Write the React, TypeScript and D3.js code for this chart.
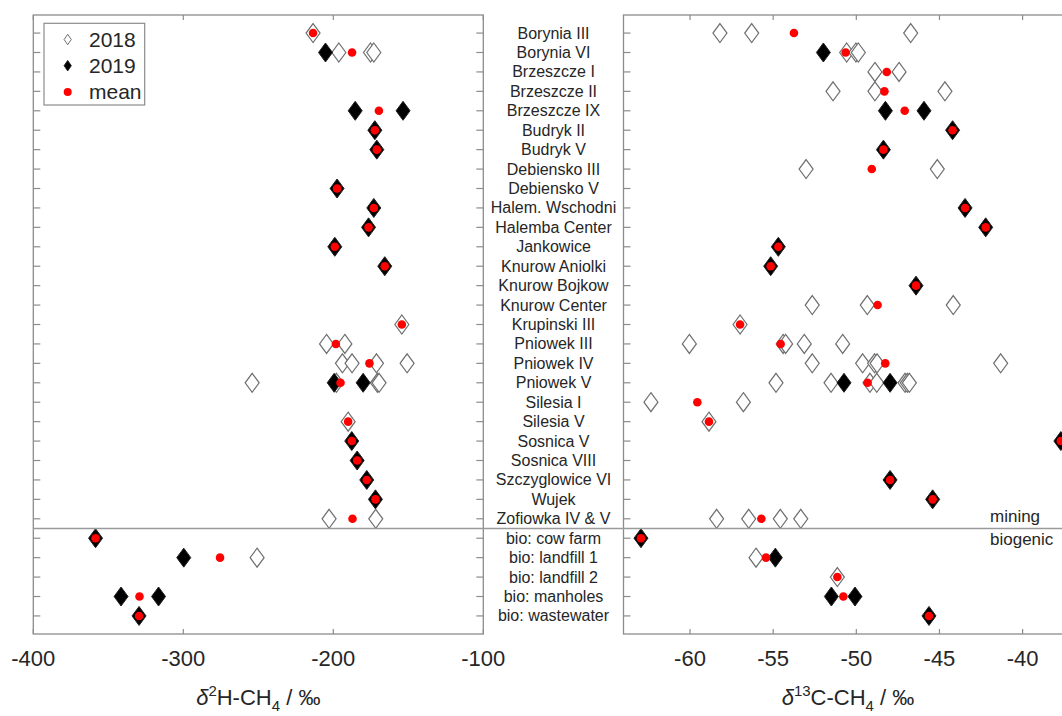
import React from "react";
import * as d3 from "d3";

const categories = [
  "Borynia III", "Borynia VI", "Brzeszcze I", "Brzeszcze II", "Brzeszcze IX",
  "Budryk II", "Budryk V", "Debiensko III", "Debiensko V", "Halem. Wschodni",
  "Halemba Center", "Jankowice", "Knurow Aniolki", "Knurow Bojkow", "Knurow Center",
  "Krupinski III", "Pniowek III", "Pniowek IV", "Pniowek V", "Silesia I",
  "Silesia V", "Sosnica V", "Sosnica VIII", "Szczyglowice VI", "Wujek",
  "Zofiowka IV & V", "bio: cow farm", "bio: landfill 1", "bio: landfill 2",
  "bio: manholes", "bio: wastewater",
];

// δ2H-CH4 values
const h2_2018: number[][] = [
  [-213.5], [-196.3, -175.2, -173], [], [], [],
  [], [], [], [], [],
  [], [], [], [], [],
  [-154.3], [-204.5, -192.3], [-193.9, -187.5, -171.2, -150.8], [-254.1, -197.9, -170.6, -169.5], [],
  [-190.1], [], [], [], [],
  [-202.8, -171.7], [], [-250.8], [], [], [],
];
const h2_2019: number[][] = [
  [], [-205.2], [], [], [-185.4, -153.5],
  [-172.3], [-171], [], [-197.5], [-173],
  [-176.5], [-199], [-165.7], [], [],
  [], [], [], [-199.4, -180.1], [],
  [], [-187.7], [-184.1], [-177.7], [-171.9],
  [], [-358.5], [-299.7], [], [-341.5, -316.5], [-329.5],
];
const h2_mean: (number | null)[] = [
  -213.5, -187.5, null, null, -169.6,
  -172.3, -171, null, -197.5, -173,
  -176.5, -199, -165.7, null, null,
  -154.3, -198.3, -175.9, -195.2, null,
  -190.1, -187.7, -184.1, -177.7, -171.9,
  -187.2, -358.5, -275.5, null, -329.2, -329.5,
];

// δ13C-CH4 values
const c13_2018: number[][] = [
  [-58.2, -56.29, -46.73], [-50.58, -50.02, -49.88], [-48.88, -47.43], [-51.4, -48.88, -44.67], [],
  [], [], [-53.02, -45.13], [], [],
  [], [], [], [], [-52.65, -49.34, -44.17],
  [-56.99], [-60.04, -54.4, -54.25, -53.13, -50.82], [-52.65, -49.62, -48.9, -48.75, -41.32],
  [-54.83, -51.52, -49.18, -48.77, -47.07, -46.93, -46.81], [-62.35, -56.79],
  [-58.86], [], [], [], [],
  [-58.4, -56.47, -54.57, -53.34], [], [-56.03], [-51.14], [], [],
];
const c13_2019: number[][] = [
  [], [-51.98], [], [], [-48.25, -45.93],
  [-44.21], [-48.37], [], [], [-43.46],
  [-42.22], [-54.69], [-55.15], [-46.41], [],
  [], [], [], [-50.74, -47.97], [],
  [], [-37.7], [], [-47.97], [-45.41],
  [], [-62.95], [-54.87], [], [-51.5, -50.08], [-45.63],
];
const c13_mean: (number | null)[] = [
  -53.75, -50.64, -48.17, -48.31, -47.09,
  -44.21, -48.37, -49.07, null, -43.46,
  -42.22, -54.69, -55.15, -46.41, -48.72,
  -56.99, -54.55, -48.26, -49.32, -59.56,
  -58.86, -37.7, null, -47.97, -45.41,
  -55.71, -62.95, -55.43, -51.14, -50.78, -45.63,
];

const h2Ticks = [-400, -300, -200, -100];
const c13Ticks = [-60, -55, -50, -45, -40];
const legendItems = ["2018", "2019", "mean"];

const W = 1062;
const H = 716;
const TOP = 15;
const BOTTOM = 634;
const FONT = "'Liberation Sans', Arial, sans-serif";
const TXT = "#262626";
const AX = "#8c8c8c";

const diamond = (hw: number, hh: number) => `M0,${-hh}L${hw},0L0,${hh}L${-hw},0Z`;
const D_BIG = diamond(7, 9.5);
const D_SMALL = diamond(3.6, 5.2);

export default function App() {
  const y = d3.scaleLinear().domain([-0.93, categories.length - 0.07]).range([TOP, BOTTOM]);
  const xL = d3.scaleLinear().domain([-400, -100]).range([33.3, 483.3]);
  const xR = d3.scaleLinear().domain([-64, -37]).range([623.5, 1072.5]);
  const sepY = y(25.5);

  const panel = (
    x: d3.ScaleLinear<number, number>,
    ticks: number[],
    d18: number[][],
    d19: number[][],
    mean: (number | null)[],
    key: string
  ) => {
    const [x0, x1] = x.range();
    return (
      <g key={key}>
        <rect x={x0} y={TOP} width={x1 - x0} height={BOTTOM - TOP} fill="none" stroke={AX} strokeWidth={1.3} />
        {categories.map((_, i) => (
          <g key={i}>
            <line x1={x0} x2={x0 + 7} y1={y(i)} y2={y(i)} stroke={AX} strokeWidth={1.2} />
            <line x1={x1} x2={x1 - 7} y1={y(i)} y2={y(i)} stroke={AX} strokeWidth={1.2} />
          </g>
        ))}
        {ticks.map((t) => (
          <g key={t}>
            <line x1={x(t)} x2={x(t)} y1={TOP} y2={TOP + 5} stroke={AX} strokeWidth={1.2} />
            <line x1={x(t)} x2={x(t)} y1={BOTTOM} y2={BOTTOM - 5} stroke={AX} strokeWidth={1.2} />
            <text x={x(t)} y={666} textAnchor="middle" fontSize={22} fill={TXT} fontFamily={FONT}>
              {t}
            </text>
          </g>
        ))}
        {d18.map((vals, i) =>
          vals.map((v, j) => (
            <path key={`a${i}-${j}`} d={D_BIG} transform={`translate(${x(v)},${y(i)})`} fill="white" stroke="#6e6e6e" strokeWidth={1.2} />
          ))
        )}
        {d19.map((vals, i) =>
          vals.map((v, j) => (
            <path key={`b${i}-${j}`} d={D_BIG} transform={`translate(${x(v)},${y(i)})`} fill="black" stroke="#222" strokeWidth={1} />
          ))
        )}
        {mean.map((v, i) =>
          v === null ? null : <circle key={`m${i}`} cx={x(v)} cy={y(i)} r={4.3} fill="#ff0000" />
        )}
      </g>
    );
  };

  const lx = 44, ly = 23.3, lw = 100.7, lh = 81.7;

  return (
    <svg width={W} height={H} style={{ position: "absolute", left: 0, top: 0, background: "white" }}>
      {panel(xL, h2Ticks, h2_2018, h2_2019, h2_mean, "L")}
      {panel(xR, c13Ticks, c13_2018, c13_2019, c13_mean, "R")}
      <line x1={33.3} x2={W} y1={sepY} y2={sepY} stroke="#9a9a9a" strokeWidth={1.6} />
      {categories.map((c, i) => (
        <text key={c} x={553.5} y={y(i) + 5.5} textAnchor="middle" fontSize={16} fill={TXT} fontFamily={FONT}>
          {c}
        </text>
      ))}
      <text x={990} y={521.5} fontSize={17} fill={TXT} fontFamily={FONT}>mining</text>
      <text x={990} y={545} fontSize={17} fill={TXT} fontFamily={FONT}>biogenic</text>
      {/* legend */}
      <rect x={lx} y={ly} width={lw} height={lh} fill="white" stroke={AX} strokeWidth={1.2} />
      {legendItems.map((t, k) => {
        const yy = 39.5 + k * 26.2;
        return (
          <g key={t}>
            {k === 0 && <path d={D_SMALL} transform={`translate(67.7,${yy})`} fill="white" stroke="#6e6e6e" strokeWidth={1} />}
            {k === 1 && <path d={D_SMALL} transform={`translate(67.7,${yy})`} fill="black" stroke="#222" strokeWidth={1} />}
            {k === 2 && <circle cx={67.7} cy={yy} r={4} fill="#ff0000" />}
            <text x={89} y={yy + 7.5} fontSize={21} fill={TXT} fontFamily={FONT}>{t}</text>
          </g>
        );
      })}
      {/* axis titles */}
      <text x={258.3} y={705} textAnchor="middle" fontSize={22} fill={TXT} fontFamily={FONT}>
        <tspan fontStyle="italic">δ</tspan>
        <tspan fontSize={15} dy={-9}>2</tspan>
        <tspan dy={9}>H-CH</tspan>
        <tspan fontSize={15} dy={6}>4</tspan>
        <tspan dy={-6}> / ‰</tspan>
      </text>
      <text x={848} y={705} textAnchor="middle" fontSize={22} fill={TXT} fontFamily={FONT}>
        <tspan fontStyle="italic">δ</tspan>
        <tspan fontSize={15} dy={-9}>13</tspan>
        <tspan dy={9}>C-CH</tspan>
        <tspan fontSize={15} dy={6}>4</tspan>
        <tspan dy={-6}> / ‰</tspan>
      </text>
    </svg>
  );
}
